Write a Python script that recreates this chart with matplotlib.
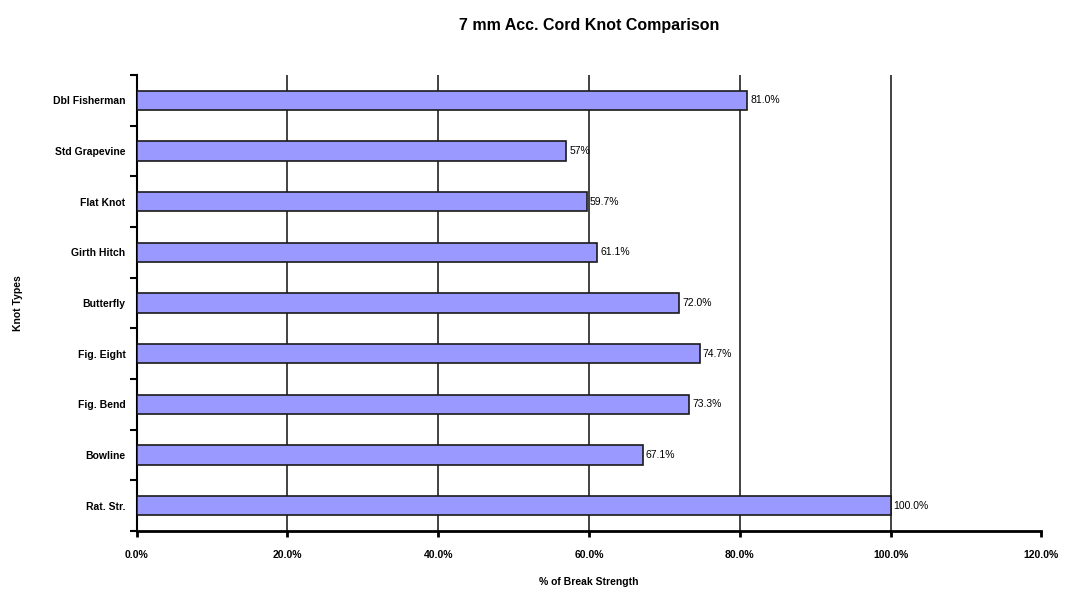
import matplotlib.pyplot as plt
from matplotlib.ticker import MultipleLocator, FuncFormatter

# knot types, listed bottom to top as they sit on the axis
knots = ["Rat. Str.", "Bowline", "Fig. Bend", "Fig. Eight", "Butterfly",
         "Girth Hitch", "Flat Knot", "Std Grapevine", "Dbl Fisherman"]
strength = [100.0, 67.1, 73.3, 74.7, 72.0, 61.1, 59.7, 57.0, 81.0]
value_labels = ["100.0%", "67.1%", "73.3%", "74.7%", "72.0%",
                "61.1%", "59.7%", "57%", "81.0%"]

plt.rcParams['font.family'] = ['Liberation Sans', 'DejaVu Sans']

fig = plt.figure(figsize=(10.68, 5.94), dpi=100)
ax = fig.add_axes([0.128, 0.106, 0.847, 0.768])

pos = range(len(knots))
ax.barh(pos, strength, height=0.38, color='#9999ff',
        edgecolor='#1a1a1a', linewidth=1.2, zorder=3)

for y, v, txt in zip(pos, strength, value_labels):
    ax.text(v + 0.4, y, txt, va='center', ha='left', fontsize=7.5, zorder=4)

ax.set_xlim(0, 120)
ax.set_ylim(-0.5, len(knots) - 0.5)
ax.xaxis.set_major_locator(MultipleLocator(20))
ax.xaxis.set_major_formatter(FuncFormatter(lambda x, _: f"{x:.1f}%"))
ax.set_yticks(list(pos))
ax.set_yticklabels(knots, fontweight='bold', fontsize=7.5)
ax.set_yticks([p - 0.5 for p in range(len(knots) + 1)], minor=True)
ax.tick_params(axis='y', which='major', length=0, pad=8)
ax.tick_params(axis='y', which='minor', length=5, width=1.5, color='black')
ax.tick_params(axis='x', length=4, width=2, labelsize=7.5, pad=10)
for lbl in ax.get_xticklabels():
    lbl.set_fontweight('bold')

# vertical gridlines at every 20%, except on the outer edge
for x in range(20, 120, 20):
    ax.axvline(x, color='#222222', linewidth=1.2, zorder=0)
for side in ('top', 'right'):
    ax.spines[side].set_visible(False)
ax.spines['left'].set_linewidth(1.5)
ax.spines['bottom'].set_linewidth(2)

ax.set_title("7 mm Acc. Cord Knot Comparison", fontweight='bold',
             fontsize=11.5, pad=32)
ax.set_xlabel("% of Break Strength", fontweight='bold', fontsize=7.5,
              labelpad=12)
ax.set_ylabel("Knot Types", fontweight='bold', fontsize=7.5, labelpad=22)

fig.savefig("out.png", dpi=100)
